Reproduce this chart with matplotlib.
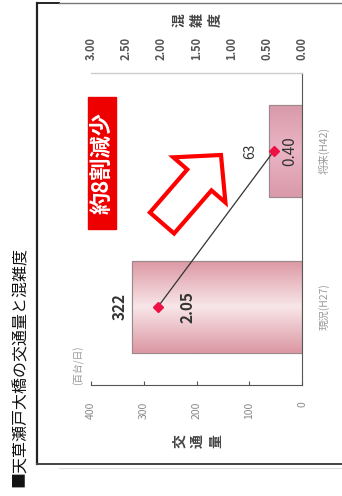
import numpy as np
import matplotlib
matplotlib.use("Agg")
import matplotlib.pyplot as plt
from matplotlib.patches import FancyArrow, Rectangle
from matplotlib.colors import LinearSegmentedColormap

plt.rcParams['font.family'] = ['Noto Sans CJK JP', 'DejaVu Sans']

# ---- data ----
categories = ["現況(H27)", "将来(H42)"]
traffic = [322, 63]            # 百台/日
congestion = [2.05, 0.40]
traffic_ticks = [0, 100, 200, 300, 400]
congestion_ticks = [0.0, 0.5, 1.0, 1.5, 2.0, 2.5, 3.0]
title = "■天草瀬戸大橋の交通量と混雑度"
callout = "約8割減少"

W, H = 342, 496
fig = plt.figure(figsize=(W / 100, H / 100), dpi=100)
fig.patch.set_facecolor("white")

# overlay axes in pixel coordinates for decorations
ov = fig.add_axes([0, 0, 1, 1], zorder=0)
ov.set_xlim(0, W)
ov.set_ylim(H, 0)
ov.axis("off")
# frame
ov.plot([37, 59], [3, 3], color="#222222", lw=1.4)
ov.plot([59, W + 5], [3, 3], color="#777777", lw=1.0)
ov.plot([37, 37], [3, 464], color="#222222", lw=1.6)
ov.plot([37, W + 5], [464, 464], color="#444444", lw=1.4)
ov.plot([59, W + 5], [468, 468], color="#dddddd", lw=0.8)

ax = fig.add_axes([91 / W, 1 - 385 / H, 211 / W, 312 / H], zorder=2)
ax.patch.set_alpha(0)
ypos = np.arange(len(categories))
bars = ax.barh(ypos, traffic, height=0.594, color="#eec4ca",
               edgecolor="#9a8a8c", linewidth=0.8, zorder=2)
ax.set_xlim(400, 0)
ax.set_ylim(-0.5, 1.5)

# gradient fill for bars
cmaps = [LinearSegmentedColormap.from_list("g1", ["#dc98a3", "#f8e6e9", "#dc98a3"]),
         LinearSegmentedColormap.from_list("g2", ["#d99aab", "#eab4c4", "#d99aab"])]
grad = np.linspace(0, 1, 64).reshape(-1, 1)
for b, cm in zip(bars, cmaps):
    x0, y0 = b.get_x(), b.get_y()
    w, h = b.get_width(), b.get_height()
    im = ax.imshow(grad, cmap=cm, aspect="auto",
                   extent=[x0, x0 + w, y0, y0 + h], origin="lower", zorder=2.5)
    im.set_clip_path(b)
    ax.add_patch(Rectangle((x0, y0), w, h, fill=False, ec="#9a8a8c", lw=0.8, zorder=3))
ax.set_xlim(400, 0)
ax.set_ylim(-0.5, 1.5)

ax.spines["left"].set_visible(False)
ax.spines["top"].set_color("#cccccc")
ax.spines["top"].set_linewidth(1.0)
ax.spines["right"].set_color("#555555")
ax.spines["bottom"].set_color("#555555")
ax.set_xticks(traffic_ticks)
ax.set_xticklabels([str(t) for t in traffic_ticks], rotation=90, color="#888888", fontsize=7.5)
ax.tick_params(axis="x", direction="in", length=3, color="#555555", pad=12)
ax.yaxis.tick_right()
ax.set_yticks(ypos)
ax.set_yticklabels(categories, rotation=90, va="center", color="#999999", fontsize=7.5)
ax.tick_params(axis="y", length=0, pad=12)

# congestion axis (top)
ax2 = ax.twiny()
ax2.set_zorder(3)
ax2.set_xlim(3, 0)
ax2.set_ylim(-0.5, 1.5)
for s in ax2.spines.values():
    s.set_visible(False)
ax2.set_xticks(congestion_ticks)
ax2.set_xticklabels([f"{t:.2f}" for t in congestion_ticks], rotation=90,
                    color="#555555", fontsize=8, fontweight="bold")
ax2.tick_params(axis="x", length=0, pad=9)
ax2.plot(congestion, ypos, color="#333333", lw=0.9, zorder=4)
ax2.plot(congestion, ypos, ls="none", marker="D", ms=5, color="#ee1144", zorder=5)

# data labels
ax.text(traffic[0] + 23, ypos[0], f"{traffic[0]}", rotation=90, ha="center", va="center",
        fontsize=11, fontweight="bold", color="#333333", zorder=6)
ax.text(traffic[1] + 36, ypos[1], f"{traffic[1]}", rotation=90, ha="center", va="center",
        fontsize=10, color="#333333", zorder=6)
ax2.text(congestion[0] - 0.42, ypos[0], f"{congestion[0]:.2f}", rotation=90, ha="center",
         va="center", fontsize=11, fontweight="bold", color="#333333", zorder=6)
ax2.text(congestion[1] - 0.23, ypos[1], f"{congestion[1]:.2f}", rotation=90, ha="center",
         va="center", fontsize=11, color="#333333", zorder=6)

# axis titles (stacked characters, rotated)
for i, ch in enumerate("混雑度"):
    fig.text((180 + 18 * i) / W, 1 - 20 / H, ch, rotation=90, ha="center", va="center",
             fontsize=10, fontweight="bold", color="#444444")
for i, ch in enumerate("交通量"):
    fig.text((180 + 18 * i) / W, 1 - 441 / H, ch, rotation=90, ha="center", va="center",
             fontsize=10, fontweight="bold", color="#444444")
fig.text(78 / W, 1 - 365 / H, "(百台/日)", rotation=90, ha="center", va="center",
         fontsize=7, color="#999999")

# title
fig.text(20 / W, 1 - 487 / H, title, rotation=90, ha="center", va="bottom",
         fontsize=11.5, color="#111111")

# callout box and arrow
ov2 = fig.add_axes([0, 0, 1, 1], zorder=7)
ov2.set_xlim(0, W)
ov2.set_ylim(H, 0)
ov2.axis("off")
ov2.add_patch(Rectangle((88, 97), 28, 132, color="#ee0000"))
ov2.text(102, 163, callout, rotation=90, ha="center", va="center", fontsize=16,
         fontweight="bold", color="white")
ov2.add_patch(FancyArrow(162, 223, 59, -68, width=32, head_width=69, head_length=33,
                         length_includes_head=True, fc="white", ec="#ff0000", lw=3,
                         joinstyle="miter"))

fig.savefig("out.png", dpi=100)
